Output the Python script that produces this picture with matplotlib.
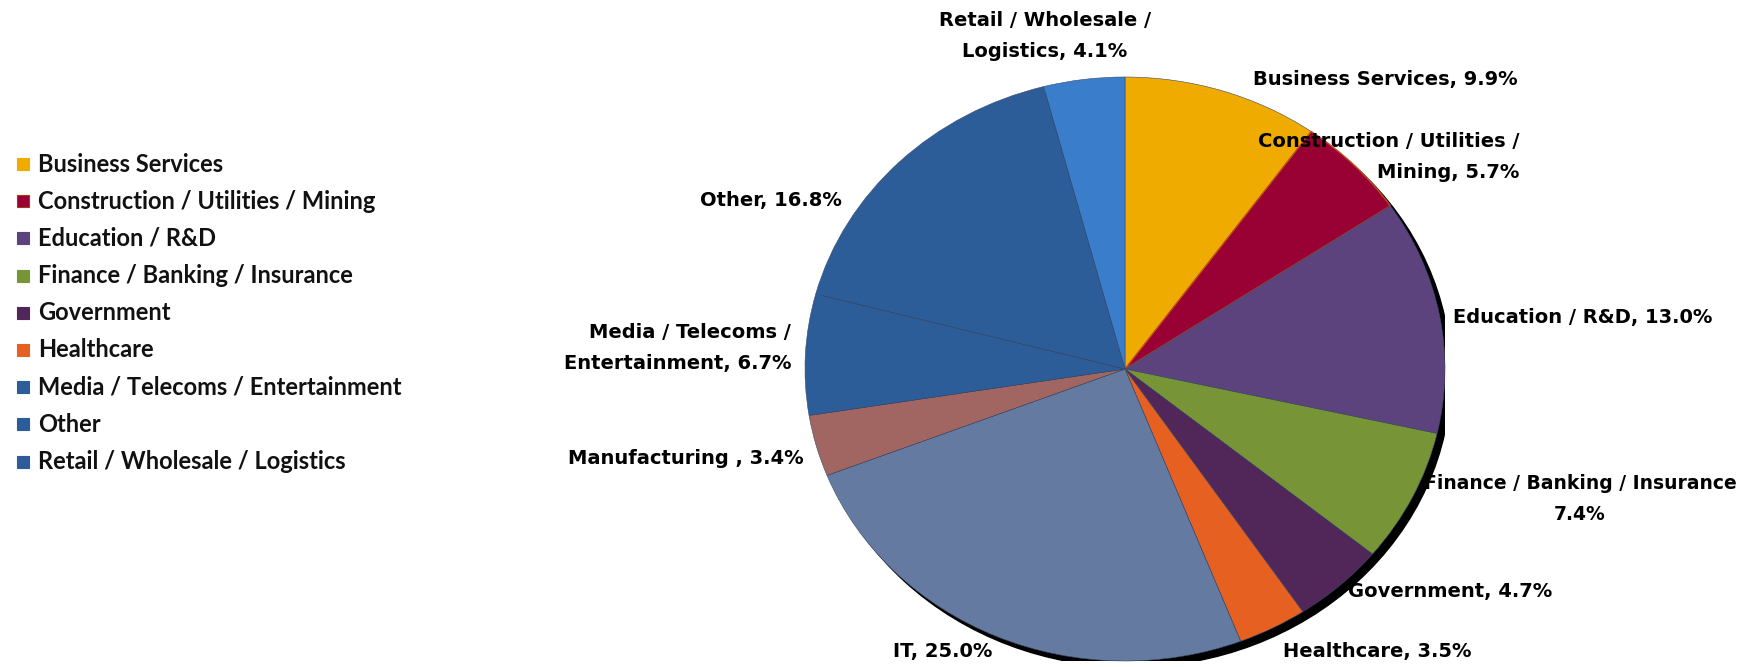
import matplotlib
matplotlib.use("Agg")
import matplotlib.pyplot as plt
from matplotlib.patches import Ellipse, Rectangle

W, H = 1739, 667

sectors = ["Business Services", "Construction / Utilities / Mining", "Education / R&D",
           "Finance / Banking / Insurance", "Government", "Healthcare", "IT",
           "Manufacturing", "Media / Telecoms / Entertainment", "Other",
           "Retail / Wholesale / Logistics"]
shares = [9.9, 5.7, 13.0, 7.4, 4.7, 3.5, 25.0, 3.4, 6.7, 16.8, 4.1]
colors = ["#F0AB00", "#990033", "#5D437E", "#779536", "#512659", "#E66022",
          "#657AA0", "#A16662", "#2D5D98", "#2D5D98", "#3A7DCB"]

# labels as they appear on the chart
slice_labels = ["Business Services, 9.9%", "Construction / Utilities /\nMining, 5.7%",
                "Education / R&D, 13.0%", "Finance / Banking / Insurance\n7.4%",
                "Government, 4.7%", "Healthcare, 3.5%", "IT, 25.0%",
                "Manufacturing , 3.4%", "Media / Telecoms /\nEntertainment, 6.7%",
                "Other, 16.8%", "Retail / Wholesale /\nLogistics, 4.1%"]
# label anchor in pixels (x, y from top), alignment, size
label_pos = [(1253, 79, "left", 14), (1519, 157, "right", 14), (1453, 318, "left", 14),
             (1580, 499, "center", 13.5), (1348, 591, "left", 14), (1283, 652, "left", 14),
             (943, 652, "center", 14), (804, 458, "right", 14), (791, 348, "right", 14),
             (842, 200, "right", 14), (1045, 36, "center", 14)]

legend_names = ["Business Services", "Construction / Utilities / Mining", "Education / R&D",
                "Finance / Banking / Insurance", "Government", "Healthcare",
                "Media / Telecoms / Entertainment", "Other", "Retail / Wholesale / Logistics"]
legend_colors = ["#F0AB00", "#990033", "#5D437E", "#779536", "#512659", "#E66022",
                 "#2D5D98", "#2D5D98", "#2D5D98"]

fig = plt.figure(figsize=(W / 100, H / 100), dpi=100)
fig.patch.set_facecolor("white")

# pie axes: ellipse 640 x 585 px centred at (1125, 369)
cx, cy, rx, ry = 1125, 369, 320, 292
ax = fig.add_axes([(cx - rx) / W, 1 - (cy + ry) / H, 2 * rx / W, 2 * ry / H])
ax.add_patch(Ellipse((0.019, -0.021), 2, 2, color="black", zorder=0))
wedges, _ = ax.pie(shares, colors=colors, startangle=90, counterclock=False,
                   wedgeprops=dict(linewidth=0.4, edgecolor="#3a4a6a"))
wedges[1].set_edgecolor("#C0501A")
wedges[1].set_linewidth(1.0)
ax.set_aspect("auto")
ax.set_xlim(-1, 1)
ax.set_ylim(-1, 1)
ax.axis("off")

for text, (x, y, ha, fs) in zip(slice_labels, label_pos):
    fig.text(x / W, 1 - y / H, text, ha=ha, va="center", fontsize=fs,
             fontweight="bold", family="DejaVu Sans", linespacing=1.75,
             multialignment="center" if ha == "center" else ha)

# legend
for i, (name, c) in enumerate(zip(legend_names, legend_colors)):
    y = 164 + i * 37.2
    fig.patches.append(Rectangle((17 / W, 1 - (y + 6) / H), 12 / W, 12 / H,
                                 transform=fig.transFigure, facecolor=c,
                                 edgecolor="#A0381A" if i == 1 else c, linewidth=0.8))
    fig.text(38 / W, 1 - y / H, name, ha="left", va="center", fontsize=17,
             fontweight="bold", family=["Lato", "DejaVu Sans"], color="#111111")

fig.savefig("out.png", dpi=100)
